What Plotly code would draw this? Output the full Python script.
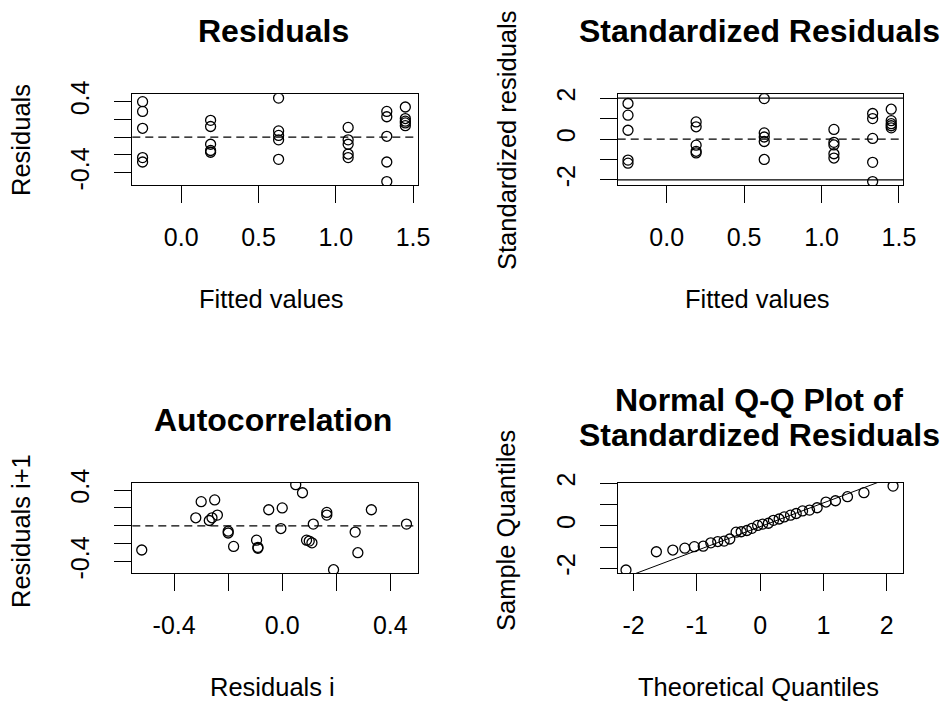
import plotly.graph_objects as go

FONT = "Liberation Sans, Arial, sans-serif"
W, H = 947, 702

# ---------------- data ----------------
fitted_values = [-0.25, -0.25, -0.25, -0.25, -0.25,
                 0.19, 0.19, 0.19, 0.19, 0.19,
                 0.63, 0.63, 0.63, 0.63, 0.63,
                 1.08, 1.08, 1.08, 1.08, 1.08,
                 1.33, 1.33, 1.33, 1.33, 1.33,
                 1.45, 1.45, 1.45, 1.45, 1.45]
residuals = [0.40, 0.29, 0.10, -0.23, -0.28,
             0.19, 0.12, -0.08, -0.15, -0.17,
             0.44, 0.07, 0.02, -0.03, -0.25,
             0.11, -0.03, -0.08, -0.19, -0.23,
             0.29, 0.23, 0.01, -0.28, -0.50,
             0.34, 0.21, 0.18, 0.16, 0.13]
std_residuals = [1.74, 1.17, 0.43, -1.03, -1.18,
                 0.84, 0.60, -0.30, -0.60, -0.68,
                 1.98, 0.30, 0.10, -0.12, -1.00,
                 0.47, -0.16, -0.29, -0.72, -0.93,
                 1.25, 1.00, 0.03, -1.14, -2.08,
                 1.46, 0.90, 0.75, 0.65, 0.55]

resid_i = [-0.52, -0.30, -0.25, -0.32, -0.27, -0.24, -0.26, -0.20, -0.20, -0.18,
           -0.095, -0.09, -0.09, -0.05, 0.00, -0.005, 0.05, 0.075, 0.09, 0.11,
           0.115, 0.165, 0.165, 0.19, 0.27, 0.28, 0.33, 0.46, 0.10]
resid_i1 = [-0.27, 0.27, 0.29, 0.09, 0.06, 0.12, 0.09, -0.06, -0.08, -0.23,
            -0.16, -0.24, -0.25, 0.18, 0.20, -0.03, 0.46, 0.37, -0.16, -0.19,
            0.02, 0.15, 0.12, -0.49, -0.07, -0.30, 0.18, 0.02, -0.17]

theoretical_q = [-2.12, -1.64, -1.38, -1.19, -1.04, -0.90, -0.78, -0.67, -0.57, -0.48,
                 -0.38, -0.30, -0.21, -0.13, -0.04, 0.04, 0.13, 0.21, 0.30, 0.38,
                 0.48, 0.57, 0.67, 0.78, 0.90, 1.04, 1.19, 1.38, 1.64, 2.10]
sample_q = [-2.08, -1.22, -1.14, -1.05, -0.98, -0.96, -0.80, -0.74, -0.72, -0.62,
            -0.30, -0.28, -0.22, -0.12, 0.02, 0.08, 0.12, 0.26, 0.32, 0.42,
            0.50, 0.58, 0.70, 0.74, 0.85, 1.12, 1.18, 1.37, 1.56, 1.87]
qqline_intercept = -0.04
qqline_slope = 1.12

# ---------------- figure ----------------
fig = go.Figure()

marker = dict(symbol="circle-open", size=10, color="black", line=dict(width=1.3, color="black"))

fig.add_trace(go.Scatter(x=fitted_values, y=residuals, mode="markers", marker=marker,
                         xaxis="x", yaxis="y", showlegend=False))
fig.add_trace(go.Scatter(x=fitted_values, y=std_residuals, mode="markers", marker=marker,
                         xaxis="x2", yaxis="y2", showlegend=False))
fig.add_trace(go.Scatter(x=resid_i, y=resid_i1, mode="markers", marker=marker,
                         xaxis="x3", yaxis="y3", showlegend=False))
fig.add_trace(go.Scatter(x=theoretical_q, y=sample_q, mode="markers", marker=marker,
                         xaxis="x4", yaxis="y4", showlegend=False))

qq_xrange = [-2.251, 2.262]
fig.add_trace(go.Scatter(x=qq_xrange,
                         y=[qqline_intercept + qqline_slope * v for v in qq_xrange],
                         mode="lines", line=dict(color="black", width=1),
                         xaxis="x4", yaxis="y4", showlegend=False, hoverinfo="skip"))

# reference lines
dash = dict(color="black", width=1.3, dash="8px,5px")
fig.add_shape(type="line", xref="x domain", yref="y", x0=0, x1=1, y0=0, y1=0, line=dash)
fig.add_shape(type="line", xref="x2 domain", yref="y2", x0=0, x1=1, y0=0, y1=0, line=dash)
fig.add_shape(type="line", xref="x3 domain", yref="y3", x0=0, x1=1, y0=0, y1=0, line=dash)
for lim in (-2, 2):
    fig.add_shape(type="line", xref="x2 domain", yref="y2", x0=0, x1=1, y0=lim, y1=lim,
                  line=dict(color="black", width=1.2))

def px_x(a, b):
    return [a / W, b / W]

def px_y(top, bottom):
    return [1 - bottom / H, 1 - top / H]

tickfont = dict(size=25, color="black", family=FONT)
common = dict(showline=True, mirror=True, linecolor="black", linewidth=1.2,
              ticks="outside", ticklen=17, tickwidth=1.2, tickcolor="black",
              showgrid=False, zeroline=False, tickfont=tickfont, tickmode="array",
              fixedrange=True, automargin=False)

LX = px_x(132.3, 417.7)
RX = px_x(617.7, 903.3)
TY = px_y(94.3, 185.0)
BY = px_y(482.7, 573.3)

fig.update_layout(
    width=W, height=H, autosize=False,
    margin=dict(l=0, r=0, t=0, b=0),
    paper_bgcolor="white", plot_bgcolor="white",
    font=dict(family=FONT, color="black"),
    xaxis=dict(common, domain=LX, anchor="y", range=[-0.3165, 1.53],
               tickvals=[0, 0.5, 1.0, 1.5], ticktext=["0.0", "0.5", "1.0", "1.5"],
               ticklabelstandoff=13),
    yaxis=dict(common, domain=TY, anchor="x", range=[-0.539, 0.483],
               tickvals=[-0.4, -0.2, 0, 0.2, 0.4], ticktext=["-0.4", "", "", "", "0.4"],
               tickangle=-90, ticklabelstandoff=15),
    xaxis2=dict(common, domain=RX, anchor="y2", range=[-0.3165, 1.528],
                tickvals=[0, 0.5, 1.0, 1.5], ticktext=["0.0", "0.5", "1.0", "1.5"],
                ticklabelstandoff=13),
    yaxis2=dict(common, domain=TY, anchor="x2", range=[-2.25, 2.19],
                tickvals=[-2, -1, 0, 1, 2], ticktext=["-2", "", "0", "", "2"],
                tickangle=-90, ticklabelstandoff=15),
    xaxis3=dict(common, domain=LX, anchor="y3", range=[-0.555, 0.5015],
                tickvals=[-0.4, -0.2, 0, 0.2, 0.4], ticktext=["-0.4", "", "0.0", "", "0.4"],
                ticklabelstandoff=13),
    yaxis3=dict(common, domain=BY, anchor="x3", range=[-0.53, 0.482],
                tickvals=[-0.4, -0.2, 0, 0.2, 0.4], ticktext=["-0.4", "", "", "", "0.4"],
                tickangle=-90, ticklabelstandoff=15),
    xaxis4=dict(common, domain=RX, anchor="y4", range=qq_xrange,
                tickvals=[-2, -1, 0, 1, 2], ticktext=["-2", "-1", "0", "1", "2"],
                ticklabelstandoff=13),
    yaxis4=dict(common, domain=BY, anchor="x4", range=[-2.235, 2.03],
                tickvals=[-2, -1, 0, 1, 2], ticktext=["-2", "", "0", "", "2"],
                tickangle=-90, ticklabelstandoff=15),
)

def ann(text, x, y, size, bold=False, angle=0):
    fig.add_annotation(text=("<b>%s</b>" % text) if bold else text,
                       x=x / W, y=1 - y / H, xref="paper", yref="paper",
                       xanchor="center", yanchor="middle", showarrow=False,
                       textangle=angle, font=dict(size=size, color="black", family=FONT))

TS = 32
AS = 25.5
# titles
ann("Residuals", 273, 31, TS, bold=True)
ann("Standardized Residuals", 759, 31, TS, bold=True)
ann("Autocorrelation", 273, 420, TS, bold=True)
ann("Normal Q-Q Plot of", 759, 400, TS, bold=True)
ann("Standardized Residuals", 759, 435, TS, bold=True)
# x axis titles
ann("Fitted values", 271, 299, AS)
ann("Fitted values", 757, 299, AS)
ann("Residuals i", 272, 687, AS)
ann("Theoretical Quantiles", 758, 687, AS)
# y axis titles
ann("Residuals", 21, 140, AS, angle=-90)
ann("Standardized residuals", 507, 141, AS, angle=-90)
ann("Residuals i+1", 21, 531, AS, angle=-90)
ann("Sample Quantiles", 506, 530, AS, angle=-90)

fig.write_html("out.html")
